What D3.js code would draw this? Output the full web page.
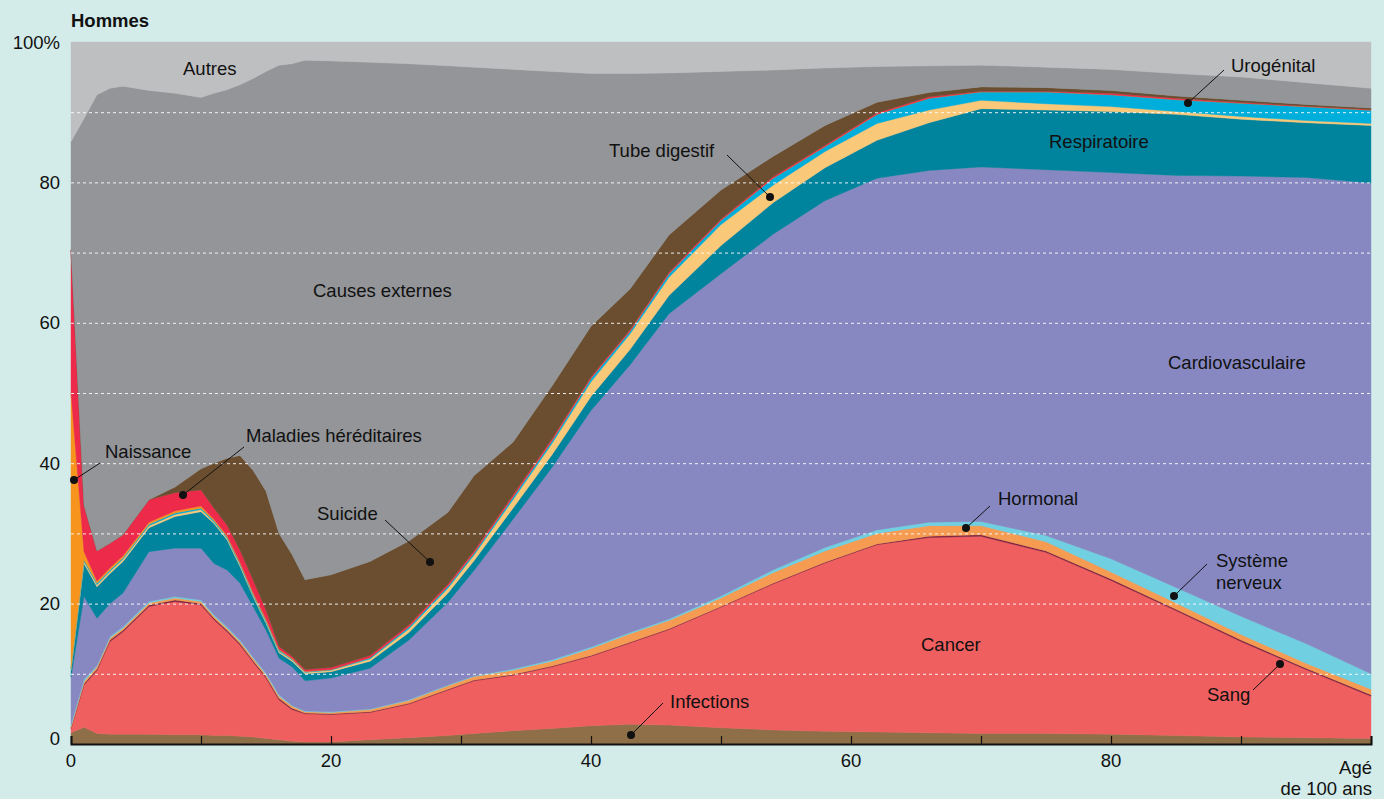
<!DOCTYPE html>
<html><head><meta charset="utf-8">
<script src="https://cdn.jsdelivr.net/npm/d3@7"></script>
<style>
html,body{margin:0;padding:0;background:#D3ECEA;}
svg{display:block;}
text{font-family:"Liberation Sans",Arial,sans-serif;fill:#111;}
</style></head>
<body>
<svg id="chart" width="1384" height="799"></svg>
<script>
const ages       = [0,1,2,3,4,6,8,10,11,12,13,14,15,16,17,18,20,23,26,29,31,34,37,40,43,46,50,54,58,62,66,70,75,80,85,90,95,100];
const infections = [1.6,2.4,1.5,1.4,1.4,1.4,1.3,1.3,1.2,1.2,1.1,1.0,0.8,0.6,0.4,0.3,0.3,0.6,0.9,1.2,1.5,1.9,2.2,2.6,2.8,2.7,2.3,2.0,1.8,1.7,1.6,1.5,1.5,1.4,1.2,1.0,0.9,0.8];
const cancer     = [0.6,6.0,9.0,13.2,14.6,18.2,19.0,18.5,16.5,14.8,13.0,10.7,8.6,5.7,4.5,4.0,3.9,3.9,4.8,6.5,7.5,7.9,8.8,9.9,11.6,13.6,17.2,20.8,24.0,26.7,27.8,28.1,25.8,21.9,17.8,13.6,9.7,6.0];
const sang       = [0.1,0.2,0.2,0.2,0.2,0.2,0.2,0.2,0.2,0.2,0.2,0.2,0.2,0.2,0.2,0.1,0.1,0.1,0.1,0.1,0.1,0.1,0.1,0.1,0.1,0.1,0.1,0.1,0.1,0.1,0.2,0.2,0.2,0.2,0.2,0.2,0.2,0.2];
const hormonal   = [0.2,0.3,0.3,0.3,0.3,0.3,0.3,0.3,0.3,0.3,0.3,0.3,0.3,0.3,0.3,0.2,0.2,0.3,0.4,0.5,0.5,0.6,0.7,1.0,1.2,1.2,1.2,1.5,1.6,1.5,1.5,1.3,1.3,1.0,0.9,0.8,0.7,0.8];
const nerveux    = [0.3,0.3,0.2,0.2,0.2,0.2,0.2,0.2,0.2,0.2,0.2,0.2,0.2,0.2,0.1,0.1,0.1,0.1,0.1,0.1,0.1,0.2,0.2,0.2,0.2,0.2,0.3,0.4,0.5,0.5,0.5,0.6,0.9,1.9,2.2,2.6,2.8,2.2];
const cardio     = [6.7,11.8,6.7,4.7,4.8,7.1,6.9,7.4,7.3,8.1,8.1,7.2,6.1,5.2,5.5,4.3,4.8,5.8,8.5,11.8,15.0,21.3,27.4,33.7,38.1,43.5,45.9,47.8,49.4,50.1,50.1,50.5,52.1,55.0,58.7,62.7,66.4,69.9];
const respi      = [1.0,4.7,4.5,4.3,4.5,3.4,4.5,5.2,5.7,4.3,2.4,1.4,1.0,0.8,0.8,1.0,0.9,1.0,1.1,1.3,1.4,1.6,1.8,2.0,2.2,2.6,4.0,4.5,4.7,5.4,6.8,8.3,8.5,8.7,8.7,8.1,7.8,8.2];
const digestif   = [0.2,0.3,0.3,0.3,0.3,0.3,0.3,0.3,0.2,0.2,0.2,0.2,0.2,0.2,0.2,0.2,0.2,0.3,0.5,0.7,0.8,1.2,1.6,2.1,2.2,2.6,3.0,2.5,2.3,2.4,1.8,1.2,0.9,0.7,0.4,0.4,0.3,0.3];
const urogenital = [0.1,0.2,0.2,0.2,0.2,0.2,0.2,0.2,0.2,0.2,0.2,0.2,0.2,0.2,0.1,0.1,0.1,0.2,0.3,0.3,0.3,0.4,0.4,0.5,0.4,0.5,0.6,1.0,0.7,1.3,1.7,1.2,1.7,1.7,1.7,1.9,2.0,1.9];
const naissance  = [39.2,1.2,0.3,0.3,0.3,0.3,0.3,0.3,0.2,0.2,0.2,0.2,0.2,0.1,0.1,0.05,0,0,0,0,0,0,0,0,0,0,0,0,0,0,0,0,0,0,0,0,0,0];
const hereditaires=[20.4,6.6,4.3,3.5,3.0,3.2,2.6,2.3,1.6,1.5,1.7,1.8,1.3,0.4,0.3,0.25,0.3,0.3,0.3,0.3,0.3,0.3,0.3,0.2,0.2,0.2,0.2,0.2,0.2,0.2,0.2,0.1,0.1,0.2,0.2,0.1,0.1,0.1];
const suicide    = [0,0,0,0,0,0,0.8,3.0,6.4,9.5,13.5,15.6,16.9,16.1,14.5,12.8,13.2,13.4,11.9,10.2,10.7,7.5,7.5,7.2,5.8,5.3,4.1,2.9,2.8,1.5,0.6,0.6,0.5,0.4,0.3,0.3,0.2,0.2];
const externes   = [15.4,55.1,65.0,64.8,63.9,58.3,56.1,52.9,52.7,52.5,52.8,55.8,59.8,66.7,69.9,74.0,73.2,71.1,68.0,63.6,58.2,53.1,44.8,36.0,30.7,23.1,16.9,12.3,8.2,5.1,3.8,3.1,2.9,3.0,3.2,3.3,3.1,2.8];
const autres     = [14.2,10.9,7.5,6.6,6.3,6.9,7.3,7.9,7.3,6.8,6.1,5.2,4.2,3.3,3.1,2.6,2.7,2.9,3.1,3.4,3.6,3.9,4.2,4.5,4.5,4.4,4.2,4.0,3.7,3.5,3.4,3.3,3.6,3.9,4.5,5.0,5.8,6.6];
const yTicks = [0,20,40,60,80,100];
const xTicks = [0,20,40,60,80];

const series = [
  {key:"Infections", values:infections, color:"#8F6F47"},
  {key:"Cancer", values:cancer, color:"#F05F5F"},
  {key:"Sang", values:sang, color:"#7D1E3F"},
  {key:"Hormonal", values:hormonal, color:"#F59B52"},
  {key:"Système nerveux", values:nerveux, color:"#70CFE0"},
  {key:"Cardiovasculaire", values:cardio, color:"#8788C2"},
  {key:"Respiratoire", values:respi, color:"#00839C"},
  {key:"Tube digestif", values:digestif, color:"#F9C878"},
  {key:"Urogénital", values:urogenital, color:"#00AEDB"},
  {key:"Naissance", values:naissance, color:"#F7941D"},
  {key:"Maladies héréditaires", values:hereditaires, color:"#EE2A4A"},
  {key:"Suicide", values:suicide, color:"#6B4E2F"},
  {key:"Causes externes", values:externes, color:"#939598"},
  {key:"Autres", values:autres, color:"#BEBFC1"}
];

const table = ages.map((a,i)=>{const o={age:a}; series.forEach(s=>o[s.key]=s.values[i]); return o;});
const stack = d3.stack().keys(series.map(s=>s.key));
const layers = stack(table);

const svg = d3.select("#chart");
const x = d3.scaleLinear().domain([0,100]).range([71,1371]);
const y = d3.scaleLinear().domain([0,100]).range([744,42]);

const area = d3.area().x(d=>x(d.data.age)).y0(d=>y(d[0])).y1(d=>y(d[1])).curve(d3.curveLinear);
const total = d3.area().x(d=>x(d.age)).y0(y(0)).y1(y(100));

svg.append("path").datum(table).attr("d", total).attr("fill", "#BEBFC1");
svg.append("g").selectAll("path").data(layers).join("path")
  .attr("d", area)
  .attr("fill", (d,i)=>series[i].color)
  .attr("stroke", (d,i)=>series[i].color)
  .attr("stroke-width", 0.4);

// dashed gridlines
svg.append("g").selectAll("line").data(d3.range(10,100,10)).join("line")
  .attr("x1", x(0)).attr("x2", x(100))
  .attr("y1", d=>y(d)+0.5).attr("y2", d=>y(d)+0.5)
  .attr("stroke", "#fff").attr("stroke-width", 1).attr("stroke-dasharray", "3,3").attr("opacity", 0.9);

// x axis baseline + ticks
const xAxis = d3.axisBottom(x).tickValues(d3.range(0,101,10)).tickSize(-8).tickFormat("");
const gx = svg.append("g").attr("transform", `translate(0,${y(0)})`).call(xAxis);
gx.select(".domain").attr("stroke", "#111").attr("stroke-width", 2);
gx.selectAll(".tick line").attr("stroke", "#111").attr("stroke-width", 1.2);

svg.append("g").selectAll("text").data(xTicks).join("text")
  .attr("x", d=>x(d)).attr("y", 767).attr("text-anchor","middle")
  .attr("font-size", 18.5).text(d=>d);
svg.append("text").attr("x", 1372).attr("y", 774).attr("text-anchor","end").attr("font-size",18.5).text("Agé");
svg.append("text").attr("x", 1372).attr("y", 795).attr("text-anchor","end").attr("font-size",18.5).text("de 100 ans");

svg.append("g").selectAll("text").data(yTicks).join("text")
  .attr("x", 60).attr("y", d=> d===0 ? y(d)-6 : y(d)).attr("dy","0.36em").attr("text-anchor","end")
  .attr("font-size", 18.5).text(d=> d===100 ? "100%" : d);

svg.append("text").attr("x", 71).attr("y", 27).attr("font-size", 18.5).attr("font-weight", "bold").text("Hommes");

// annotations
const labels = [
  {t:["Autres"], x:183, y:68},
  {t:["Causes externes"], x:313, y:290},
  {t:["Naissance"], x:105, y:451},
  {t:["Maladies héréditaires"], x:246, y:435},
  {t:["Suicide"], x:317, y:513},
  {t:["Tube digestif"], x:609, y:150},
  {t:["Respiratoire"], x:1049, y:141},
  {t:["Urogénital"], x:1231, y:65},
  {t:["Cardiovasculaire"], x:1168, y:362},
  {t:["Hormonal"], x:998, y:498},
  {t:["Système","nerveux"], x:1216, y:560},
  {t:["Cancer"], x:921, y:644},
  {t:["Sang"], x:1207, y:694},
  {t:["Infections"], x:670, y:701}
];
labels.forEach(l=>{
  l.t.forEach((s,i)=>{
    svg.append("text").attr("x", l.x).attr("y", l.y + i*22).attr("dy","0.36em").attr("font-size", 18.5).text(s);
  });
});

const pointers = [
  {x1:100, y1:463, x2:74, y2:480},
  {x1:244, y1:447, x2:183, y2:495},
  {x1:385, y1:520, x2:430, y2:562},
  {x1:727, y1:155, x2:770, y2:197},
  {x1:1224, y1:70, x2:1188, y2:103},
  {x1:990, y1:506, x2:966, y2:528},
  {x1:1207, y1:564, x2:1174, y2:596},
  {x1:1253, y1:690, x2:1280, y2:664},
  {x1:663, y1:703, x2:631, y2:735}
];
const pg = svg.append("g");
pointers.forEach(p=>{
  pg.append("line").attr("x1",p.x1).attr("y1",p.y1).attr("x2",p.x2).attr("y2",p.y2).attr("stroke","#111").attr("stroke-width",1);
  pg.append("circle").attr("cx",p.x2).attr("cy",p.y2).attr("r",4).attr("fill","#111");
});
</script>
</body></html>
